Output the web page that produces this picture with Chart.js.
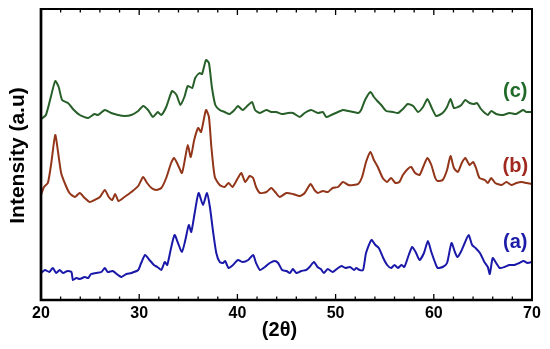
<!DOCTYPE html>
<html><head><meta charset="utf-8">
<script src="https://cdn.jsdelivr.net/npm/chart.js@4.4.1/dist/chart.umd.min.js"></script>
<style>html,body{margin:0;padding:0;background:#fff;overflow:hidden}</style>
</head><body>
<canvas id="c" width="550" height="349"></canvas>
<script>
// ---- Data (2θ in degrees, intensity in arbitrary units) ----
const thetaA = [20.0,20.4,20.85,21.2,21.55,21.9,22.25,22.7,23.1,23.25,23.6,23.95,24.45,24.8,25.1,25.6,26.15,26.5,26.8,27.3,27.85,28.2,28.7,29.2,29.9,30.2,30.6,31.05,31.5,31.85,32.25,32.6,32.85,33.2,33.6,33.95,34.35,34.7,35.05,35.3,35.65,36.05,36.5,36.9,37.2,37.5,37.85,38.2,38.55,38.75,39.1,39.55,40.05,40.55,41.1,41.6,41.9,42.3,42.8,43.3,43.8,44.15,44.55,45.0,45.35,45.65,46.0,46.5,47.0,47.35,47.8,48.15,48.5,48.8,49.2,49.7,50.25,50.6,51.0,51.45,51.9,52.1,52.45,52.8,53.1,53.65,54.05,54.4,54.85,55.25,55.65,56.0,56.35,56.7,57.0,57.45,57.8,58.15,58.55,59.0,59.4,59.75,60.15,60.4,60.9,61.35,61.8,62.15,62.4,62.75,63.15,63.55,63.9,64.25,64.7,65.15,65.5,65.7,66.0,66.35,66.7,67.2,67.7,68.2,68.7,69.15,69.55,70.0];
const intensityA = [27,30,28,32,27,30,27,29,28,20,22,21,23,22,26,27,28,32,28,29,25,23,26,27,30,37,45,40,35,33,30,38,35,50,65,57,48,60,75,68,87,107,95,107,93,70,47,38,37,39,32,35,40,38,40,45,37,30,33,37,39,37,30,29,27,31,27,29,30,33,38,33,31,27,31,28,32,34,32,33,30,32,30,30,47,60,55,52,42,35,32,35,32,35,33,45,53,48,40,47,59,48,37,32,33,37,57,48,43,48,57,65,55,52,47,38,33,26,42,37,32,33,35,35,37,39,37,38];

const thetaB = [20.0,20.3,20.7,21.05,21.45,21.75,22.05,22.5,22.9,23.45,23.95,24.45,24.95,25.45,26.0,26.5,26.9,27.25,27.55,27.9,28.5,29.2,29.9,30.4,30.8,31.25,31.75,32.25,32.75,33.25,33.55,33.95,34.35,34.7,34.95,35.25,35.6,36.0,36.3,36.8,37.1,37.35,37.7,38.2,38.7,39.1,39.5,40.05,40.4,40.8,41.25,41.6,41.9,42.3,42.95,43.45,43.85,44.3,45.0,45.65,46.35,46.85,47.45,47.85,48.2,48.7,49.2,49.7,50.25,50.75,51.3,51.8,52.3,52.7,53.1,53.55,53.9,54.3,54.8,55.25,55.65,56.1,56.5,56.85,57.35,57.7,58.1,58.55,59.0,59.35,59.75,60.15,60.4,60.9,61.35,61.7,62.05,62.45,62.85,63.2,63.65,64.0,64.3,64.65,65.2,65.5,65.85,66.25,66.9,67.4,67.9,68.4,68.95,69.45,70.0];
const intensityB = [105,113,117,137,165,147,127,115,107,103,107,102,98,100,103,110,103,100,106,99,103,108,114,123,117,112,110,112,122,137,142,135,127,143,155,143,160,172,168,190,183,153,123,115,113,117,113,122,127,118,124,122,113,107,108,112,108,103,107,106,104,107,116,110,107,109,108,112,113,118,115,115,116,123,138,148,140,133,122,118,122,117,118,125,131,133,127,125,135,142,135,122,119,120,130,144,132,128,137,142,135,138,132,122,120,117,122,117,115,118,115,117,118,117,116];

const thetaC = [20.0,20.5,21.0,21.45,21.8,22.15,22.75,23.25,23.95,24.8,25.45,25.8,26.5,27.15,27.85,28.5,29.2,29.9,30.4,30.9,31.4,31.9,32.25,32.75,33.35,33.8,34.2,34.6,34.95,35.4,35.7,36.15,36.4,36.8,37.1,37.4,37.75,38.2,38.7,39.2,39.7,40.05,40.55,41.1,41.5,41.8,42.3,42.95,43.45,43.95,44.5,45.15,45.65,46.35,46.85,47.5,48.2,48.7,49.05,49.55,50.25,50.75,51.3,51.8,52.3,52.6,53.0,53.55,53.9,54.25,54.65,55.15,55.85,56.35,56.85,57.35,57.9,58.4,58.9,59.35,59.75,60.25,60.9,61.35,61.7,62.05,62.45,62.8,63.2,63.65,64.1,64.4,64.8,65.2,65.5,65.85,66.35,67.05,67.7,68.4,69.1,69.4,70.0];
const intensityC = [181,185,203,219,213,200,197,191,185,182,186,185,190,187,185,184,185,189,194,190,183,188,185,193,209,205,195,203,214,212,222,227,226,240,237,213,195,190,188,186,190,194,190,195,198,190,187,190,188,188,186,187,187,183,187,190,187,188,183,185,188,190,189,188,187,190,200,208,203,199,195,189,188,187,191,196,194,188,193,201,193,184,187,193,201,192,193,195,200,197,196,197,191,187,185,189,186,185,187,186,190,188,188];

const xTickValues = [20, 30, 40, 50, 60, 70];
const seriesNames = ['(a)', '(b)', '(c)'];
const xTitle = '(2θ)';
const yTitle = 'Intensity (a.u)';

const colorA = '#1a18a8', colorB = '#923519', colorC = '#275f29';
const labelColors = ['#1c1ca8', '#a0281e', '#1f6a28'];

function pts(xs, ys) { return xs.map((x, i) => ({x: x, y: ys[i]})); }

const FONT = "'Liberation Sans', Arial, sans-serif";

const decor = {
  id: 'decor',
  afterDraw(chart) {
    const ctx = chart.ctx, ca = chart.chartArea, xs = chart.scales.x, ys = chart.scales.y;
    ctx.save();
    ctx.strokeStyle = '#000';
    // ticks (inward) on bottom and top
    ctx.lineWidth = 1.3;
    ctx.beginPath();
    for (let v = xs.min; v <= xs.max; v += 2) {
      const px = xs.getPixelForValue(v);
      const len = (v % 10 === 0) ? 6 : 3.5;
      ctx.moveTo(px, ca.bottom); ctx.lineTo(px, ca.bottom - len);
      ctx.moveTo(px, ca.top); ctx.lineTo(px, ca.top + len);
    }
    ctx.stroke();
    // frame
    ctx.lineWidth = 2;
    ctx.beginPath();
    ctx.moveTo(ca.left, ca.top); ctx.lineTo(ca.right, ca.top); ctx.lineTo(ca.right, ca.bottom);
    ctx.stroke();
    ctx.lineWidth = 2.7;
    ctx.beginPath();
    ctx.moveTo(ca.left, ca.top - 1); ctx.lineTo(ca.left, ca.bottom); ctx.lineTo(ca.right + 1, ca.bottom);
    ctx.stroke();
    // series labels
    ctx.font = 'bold 20px ' + FONT;
    ctx.textAlign = 'center'; ctx.textBaseline = 'middle';
    const lx = xs.getPixelForValue(68.3);
    const ly = [58, 134, 209];
    seriesNames.forEach((s, i) => {
      ctx.fillStyle = labelColors[i];
      ctx.fillText(s, lx, ys.getPixelForValue(ly[i]));
    });
    // axis titles
    ctx.fillStyle = '#000';
    ctx.font = 'bold 20px ' + FONT;
    ctx.fillText(xTitle, (ca.left + ca.right) / 2 - 7, 330);
    ctx.save();
    ctx.translate(18, (ca.top + ca.bottom) / 2 + 1);
    ctx.rotate(-Math.PI / 2);
    ctx.font = 'bold 21px ' + FONT;
    ctx.fillText(yTitle, 0, 0);
    ctx.restore();
    ctx.restore();
  }
};

new Chart(document.getElementById('c'), {
  type: 'line',
  data: {
    datasets: [
      {label: seriesNames[0], data: pts(thetaA, intensityA), borderColor: colorA},
      {label: seriesNames[1], data: pts(thetaB, intensityB), borderColor: colorB},
      {label: seriesNames[2], data: pts(thetaC, intensityC), borderColor: colorC}
    ].map(d => Object.assign(d, {borderWidth: 2, pointRadius: 0, tension: 0.2, fill: false}))
  },
  options: {
    responsive: false,
    animation: false,
    devicePixelRatio: 1,
    layout: {padding: {left: 41, right: 18, top: 9, bottom: 0}},
    plugins: {legend: {display: false}, tooltip: {enabled: false}},
    scales: {
      x: {
        type: 'linear', min: 20, max: 70,
        afterBuildTicks: (s) => { s.ticks = xTickValues.map(v => ({value: v})); },
        afterFit: (s) => { s.height = 49; },
        grid: {display: false, drawTicks: false},
        border: {display: false},
        ticks: {color: '#000', padding: 4, font: {family: FONT, weight: 'bold', size: 16}}
      },
      y: {
        min: 0, max: 291,
        afterFit: (s) => { s.width = 0; },
        grid: {display: false, drawTicks: false},
        border: {display: false},
        ticks: {display: false}
      }
    }
  },
  plugins: [decor]
});
</script>
</body></html>
